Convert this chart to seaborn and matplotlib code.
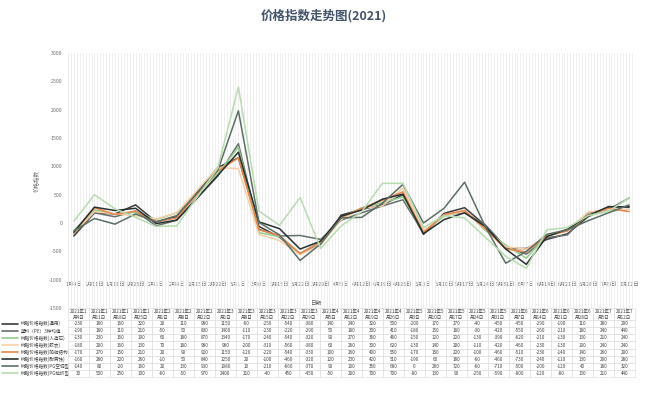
import pandas as pd
import matplotlib.pyplot as plt
import matplotlib.dates as mdates
import seaborn as sns

# ==========================================
# DATA
# ==========================================
DATES = ["2021-01-04", "2021-01-11", "2021-01-18", "2021-01-25", "2021-02-01", "2021-02-08",
         "2021-02-22", "2021-03-01", "2021-03-08", "2021-03-15", "2021-03-22", "2021-03-29",
         "2021-04-05", "2021-04-12", "2021-04-19", "2021-04-26", "2021-05-03", "2021-05-10",
         "2021-05-17", "2021-05-24", "2021-05-31", "2021-06-07", "2021-06-14", "2021-06-21",
         "2021-06-28", "2021-07-05", "2021-07-12"]

# axis ticks (weekly, incl. 2月15日 which has no data)
TICK_DATES = ["2021-01-04", "2021-01-11", "2021-01-18", "2021-01-25", "2021-02-01", "2021-02-08",
              "2021-02-15", "2021-02-22", "2021-03-01", "2021-03-08", "2021-03-15", "2021-03-22",
              "2021-03-29", "2021-04-05", "2021-04-12", "2021-04-19", "2021-04-26", "2021-05-03",
              "2021-05-10", "2021-05-17", "2021-05-24", "2021-05-31", "2021-06-07", "2021-06-14",
              "2021-06-21", "2021-06-28", "2021-07-05", "2021-07-12"]
TICK_LABELS = ["1月4日", "1月11日", "1月18日", "1月25日", "2月1日", "2月8日", "2月15日",
               "2月22日", "3月1日", "3月8日", "3月15日", "3月22日", "3月29日", "4月5日",
               "4月12日", "4月19日", "4月26日", "5月3日", "5月10日", "5月17日", "5月24日",
               "5月31日", "6月7日", "6月14日", "6月21日", "6月28日", "7月5日", "7月12日"]

SERIES = ["树脂价格指数(通用)", "塑料（PE）3种均值", "树脂价格指数(人造石)", "树脂价格指数(胶衣)",
          "树脂价格指数(船舶结构)", "树脂价格指数(耐腐蚀)", "树脂价格指数(PG空调型)",
          "树脂价格指数(PG拉挤型)"]

S1 = [-230, 180, 160, 320, 20, 110, 980, 1150, -60, -250, -540, -380, 140, 240, 320, 500,
      -200, 170, 270, -40, -450, -450, -290, -190, 110, 280, 290]
S2 = [-190, 180, 110, 210, -50, 50, 830, 1400, -110, -230, -220, -290, 50, 180, 300, 410,
      -180, 150, 180, -30, -420, -550, -260, -210, 180, 240, 440]
S3 = [-130, 230, 160, 190, 60, 180, 870, 1340, -170, -240, -540, -320, 90, 270, 360, 460,
      -150, 120, 220, -130, -390, -620, -210, -130, 130, 210, 240]
S4 = [-180, 200, 160, 130, 70, 180, 980, 960, -200, -310, -560, -380, 60, 260, 300, 620,
      -130, 140, 200, -110, -420, -460, -230, -130, 190, 240, 240]
S5 = [-170, 270, 150, 210, 20, 90, 920, 1150, -120, -220, -540, -330, 100, 260, 400, 550,
      -170, 150, 220, -100, -460, -510, -230, -140, 140, 260, 200]
S6 = [-160, 280, 220, 260, -10, 50, 840, 1250, 20, -100, -460, -320, 120, 230, 420, 510,
      -190, 60, 180, -60, -460, -730, -240, -110, 130, 290, 280]
S7 = [-140, 80, -20, 160, 20, 130, 930, 1980, 10, -210, -660, -370, 90, 100, 350, 680,
      0, 260, 720, -60, -710, -500, -200, -120, 40, 180, 320]
S8 = [30, 500, 250, 100, -60, -50, 970, 2400, 210, -40, 450, -450, -50, 200, 700, 700,
      -80, 130, 90, -250, -590, -800, -120, -80, 130, 210, 440]
VALUES = [S1, S2, S3, S4, S5, S6, S7, S8]

COLORS = ['#3b3b3b', '#66706f', '#93cd8f', '#f6cfa6', '#e8854c', '#273131', '#5b6f66', '#b7dcb0']

Y_MIN, Y_MAX = -1500, 3000
X_LABEL_LEVEL = -1000   # date labels sit inside the plot at this value

# ==========================================
# FIGURE
# ==========================================
sns.set_theme(style='white')
plt.rcParams['font.family'] = ['Noto Sans CJK SC', 'DejaVu Sans']
plt.rcParams['axes.unicode_minus'] = False

W, H = 647, 394
fig = plt.figure(figsize=(W / 100, H / 100), dpi=100)

ax = fig.add_axes([68 / W, 1 - 308 / H, (635 - 68) / W, (308 - 53) / H])

long_df = pd.DataFrame({
    'date': pd.to_datetime(DATES * len(SERIES)),
    'series': [s for s in SERIES for _ in DATES],
    'value': [v for vals in VALUES for v in vals],
})
sns.lineplot(data=long_df, x='date', y='value', hue='series', hue_order=SERIES,
             palette=COLORS, linewidth=1.1, legend=False, ax=ax)

ax.set_ylim(Y_MIN, Y_MAX)
ax.set_yticks(range(Y_MIN, Y_MAX + 1, 500))
ax.set_xlim(pd.Timestamp("2021-01-02"), pd.Timestamp("2021-07-14"))
ax.set_xticks(pd.to_datetime(TICK_DATES))
ax.xaxis.set_minor_locator(mdates.DayLocator())
ax.grid(which='minor', axis='x', color='#ececec', linewidth=0.6)
ax.grid(which='major', axis='x', color='#ececec', linewidth=0.6)
ax.grid(axis='y', visible=False)
for sp in ax.spines.values():
    sp.set_visible(False)
ax.tick_params(axis='x', labelbottom=False, length=0)
ax.tick_params(axis='y', labelsize=3.8, colors='#707070', pad=4, length=0)
ax.set_xlabel('')
ax.set_ylabel('价格指数', fontsize=4, color='#707070', labelpad=7)

# date labels drawn on an inner axis line at the -1000 level
secax = ax.secondary_xaxis((X_LABEL_LEVEL - Y_MIN) / (Y_MAX - Y_MIN))
secax.set_xticks(pd.to_datetime(TICK_DATES), TICK_LABELS)
secax.tick_params(axis='x', labelsize=3.8, colors='#707070', pad=1.5, length=0)
secax.spines['bottom'].set_visible(False)

fig.text(0.487, 1 - 303 / H, '日期', fontsize=4, color='#606060', ha='center', va='center')
fig.text(0.5, 1 - 16 / H, '价格指数走势图(2021)', fontsize=9, fontweight='bold',
         color='#44546a', ha='center', va='center')

# ==========================================
# DATA TABLE
# ==========================================
tab_ax = fig.add_axes([0, 1 - 377 / H, 635 / W, (377 - 308) / H])
tab_ax.axis('off')

headers = [''] + ['2021年%d\n月%d日' % (pd.Timestamp(d).month, pd.Timestamp(d).day) for d in DATES]
cell_text = [[name] + [str(v) for v in vals] for name, vals in zip(SERIES, VALUES)]
tbl = tab_ax.table(cellText=cell_text, colLabels=headers, bbox=[0, 0, 1, 1], cellLoc='center')
tbl.auto_set_font_size(False)
tbl.set_fontsize(3.3)

head_h, row_h = 12, 7
for (r, c), cell in tbl.get_celld().items():
    cell.set_width(68 if c == 0 else 21)
    cell.set_height(head_h if r == 0 else row_h)
    cell.set_edgecolor('#d9d9d9')
    cell.set_linewidth(0.4)
    cell.get_text().set_color('#404040')
    if c == 0:
        cell.visible_edges = ''
        cell.set_fill(False)
        cell.get_text().set_ha('left')
        cell._loc = 'left'
        cell.PAD = 0.3

total_h = head_h + len(SERIES) * row_h
for i, col in enumerate(COLORS):
    y = 1 - (head_h + (i + 0.5) * row_h) / total_h
    tab_ax.plot([2 / 635, 18 / 635], [y, y], color=col, linewidth=1.2,
                transform=tab_ax.transAxes, clip_on=False)

fig.savefig('out.png', dpi=100, facecolor='white')
